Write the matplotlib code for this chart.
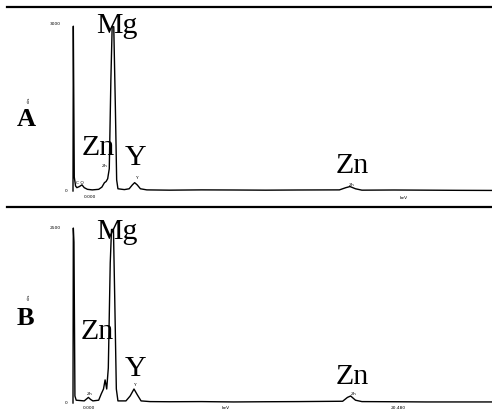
import matplotlib
matplotlib.use("Agg")
import matplotlib.pyplot as plt
from matplotlib.lines import Line2D

# ---- data (energy in keV, counts) ----
energy_a = [0.00, 0.01, 0.04, 0.08, 0.12, 0.20, 0.28, 0.35, 0.45, 0.60, 0.80, 0.90,
            0.98, 1.03, 1.08, 1.13, 1.18, 1.22, 1.27, 1.32, 1.36, 1.40, 1.60, 1.75,
            1.85, 1.92, 2.00, 2.10, 2.30, 3.00, 4.00, 5.00, 6.00, 7.00, 8.30, 8.50,
            8.63, 8.80, 9.00, 10.0, 11.0, 12.0, 13.1]
counts_a = [0, 2960, 250, 90, 60, 80, 110, 60, 30, 20, 30, 70,
            150, 170, 220, 400, 2000, 2950, 2950, 1500, 200, 40, 25, 40,
            110, 150, 110, 40, 20, 15, 20, 18, 15, 18, 20, 60,
            80, 40, 15, 18, 15, 12, 10]

energy_b = [0.00, 0.01, 0.03, 0.06, 0.10, 0.35, 0.48, 0.55, 0.62, 0.80, 0.88, 0.95,
            1.00, 1.05, 1.10, 1.16, 1.20, 1.26, 1.30, 1.35, 1.40, 1.65, 1.78, 1.90,
            2.00, 2.12, 2.40, 3.00, 4.00, 5.00, 6.00, 7.00, 8.40, 8.55, 8.65, 8.80,
            9.00, 10.0, 11.0, 12.0, 13.1]
counts_b = [0, 2500, 2300, 100, 40, 30, 80, 50, 30, 40, 130, 200,
            330, 200, 500, 2000, 2480, 2480, 1500, 200, 30, 30, 100, 200,
            120, 30, 20, 18, 20, 15, 18, 20, 25, 80, 100, 40,
            20, 18, 15, 15, 15]

peak_labels = ["Mg", "Zn", "Y", "Zn"]
ymax_labels = ["3000", "2500"]
panel_labels = ["A", "B"]

W, H = 492, 419
fig = plt.figure(figsize=(W / 100, H / 100), dpi=100)


def fx(px):
    return px / W


def fy(py):
    return 1 - py / H


# axes A: pixels y 0..207 ; axes B: 207..419
axA = fig.add_axes([0, fy(207), 1, 207 / H])
axB = fig.add_axes([0, 0, 1, 212 / H])
xl = (-73 / 32.1, (W - 73) / 32.1)
axA.set_xlim(*xl)
axB.set_xlim(*xl)
axA.set_ylim((191 - 207) * 17.96, 191 * 17.96)
axB.set_ylim((403 - 419) * 14.29, (403 - 207) * 14.29)
for ax in (axA, axB):
    ax.axis("off")

axA.plot(energy_a, counts_a, color="black", lw=1.0)
axB.plot(energy_b, counts_b, color="black", lw=1.0)

# frame lines
fig.add_artist(Line2D([fx(7), 1], [fy(7), fy(7)], color="black", lw=1.6))
fig.add_artist(Line2D([fx(7), 1], [fy(207), fy(207)], color="black", lw=1.6))

serif = "Liberation Serif"
big = 21.5


def label(px, py, s, size=big, weight="normal", family=serif, **kw):
    fig.text(fx(px), fy(py), s, fontsize=size, fontweight=weight, family=family,
             ha="center", va="center", **kw)


# panel A labels
label(117, 26, peak_labels[0])
label(98, 148, peak_labels[1])
label(136, 158, peak_labels[2])
label(352, 166, peak_labels[3])
label(26, 119, panel_labels[0], size=19, weight="bold")

# panel B labels
label(117, 232, peak_labels[0])
label(97, 332, peak_labels[1])
label(136, 369, peak_labels[2])
label(352, 377, peak_labels[3])
label(25, 318, panel_labels[1], size=19, weight="bold")

# tiny software texts
tiny = dict(size=3.2, family="DejaVu Sans")
label(55, 24, ymax_labels[0], **tiny)
label(66, 191, "0", **tiny)
label(90, 197, "0.000", **tiny)
label(404, 198, "keV", **tiny)
label(29, 100, "cts", rotation=90, **tiny)
label(105, 166, "Zn", **tiny)
label(137, 178, "Y", **tiny)
label(80, 183, "C O", **tiny)
label(352, 185, "Zn", **tiny)

label(55, 228, ymax_labels[1], **tiny)
label(66, 403, "0", **tiny)
label(89, 408, "0.000", **tiny)
label(226, 408, "keV", **tiny)
label(398, 408, "20.480", **tiny)
label(29, 297, "cts", rotation=90, **tiny)
label(90, 394, "Zn", **tiny)
label(135, 385, "Y", **tiny)
label(354, 394, "Zn", **tiny)

fig.savefig("out.png", dpi=100, facecolor="white")
